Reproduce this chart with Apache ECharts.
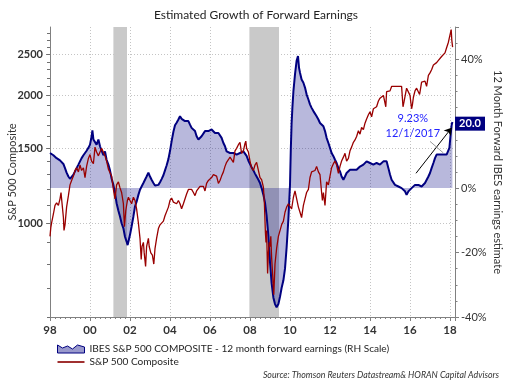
<!DOCTYPE html>
<html><head><meta charset="utf-8">
<script src="https://cdn.jsdelivr.net/npm/echarts@6/dist/echarts.min.js"></script>
<style>html,body{margin:0;padding:0;background:#fff}#c{width:512px;height:383px}</style>
</head><body><div id="c"></div>
<script>
const FONT = 'Lato, "Open Sans", sans-serif';
const chartTitle = 'Estimated Growth of Forward Earnings';
const earningsName = 'IBES S&P 500 COMPOSITE - 12 month forward earnings (RH Scale)';
const spxName = 'S&P 500 Composite';
const sourceText = 'Source: Thomson Reuters Datastream& HORAN Capital Advisors';
const leftAxisName = 'S&P 500 Composite';
const rightAxisName = '12 Month Forward IBES earnings estimate';

// [year, % growth] of 12-month forward earnings (right scale)
const earningsGrowth = [
[1998.00,10.9],[1998.08,11.1],[1998.17,10.2],[1998.25,9.6],[1998.33,9.3],[1998.42,8.8],[1998.50,8.6],[1998.58,8.3],[1998.67,7.5],[1998.75,6.2],[1998.83,4.8],[1998.92,3.6],
[1999.00,2.9],[1999.08,3.1],[1999.17,4.2],[1999.25,5.2],[1999.33,6.2],[1999.42,7.3],[1999.50,8.3],[1999.58,9.3],[1999.67,10.2],[1999.75,10.9],[1999.83,11.6],[1999.92,12.5],
[2000.00,13.5],[2000.08,16.0],[2000.12,17.9],[2000.17,15.1],[2000.25,15.6],[2000.33,13.5],[2000.42,15.1],[2000.50,13.0],[2000.58,11.6],[2000.67,10.2],[2000.75,11.4],[2000.83,8.8],[2000.92,7.3],
[2001.00,5.5],[2001.08,3.0],[2001.17,1.0],[2001.25,-1.5],[2001.33,-4.7],[2001.42,-7.0],[2001.50,-8.8],[2001.58,-10.9],[2001.67,-12.5],[2001.75,-15.1],[2001.83,-16.6],[2001.88,-17.7],[2001.94,-16.1],
[2002.00,-14.5],[2002.08,-11.9],[2002.17,-8.8],[2002.25,-5.7],[2002.33,-4.2],[2002.42,-2.1],[2002.50,-0.5],[2002.58,0.5],[2002.67,1.6],[2002.75,2.6],[2002.83,3.6],[2002.92,4.8],
[2003.00,3.6],[2003.08,2.6],[2003.17,1.6],[2003.25,0.8],[2003.33,0.5],[2003.42,1.0],[2003.50,1.8],[2003.58,2.8],[2003.67,4.0],[2003.75,5.5],[2003.83,7.0],[2003.92,9.0],
[2004.00,11.5],[2004.08,14.5],[2004.17,17.5],[2004.25,19.5],[2004.33,20.3],[2004.42,21.3],[2004.50,22.3],[2004.58,21.5],[2004.67,21.3],[2004.75,20.8],[2004.83,21.3],[2004.92,20.8],
[2005.00,19.7],[2005.08,18.7],[2005.17,18.2],[2005.25,17.7],[2005.33,16.1],[2005.42,15.1],[2005.50,15.1],[2005.58,16.1],[2005.67,16.6],[2005.75,17.7],[2005.83,18.2],[2005.92,17.7],
[2006.00,17.1],[2006.08,18.2],[2006.17,17.7],[2006.25,17.1],[2006.33,16.6],[2006.42,17.1],[2006.50,16.6],[2006.58,15.6],[2006.67,14.0],[2006.75,13.0],[2006.83,11.4],[2006.92,10.9],
[2007.00,10.9],[2007.08,10.4],[2007.17,10.9],[2007.25,10.4],[2007.33,10.4],[2007.42,10.9],[2007.50,10.9],[2007.58,11.4],[2007.67,11.4],[2007.75,10.9],[2007.83,10.0],[2007.92,8.5],
[2008.00,7.5],[2008.08,6.5],[2008.17,5.5],[2008.25,4.5],[2008.33,3.6],[2008.42,2.6],[2008.50,1.6],[2008.58,0.0],[2008.67,-2.1],[2008.75,-4.5],[2008.83,-8.5],[2008.92,-15.0],
[2009.00,-23.0],[2009.08,-29.5],[2009.17,-34.0],[2009.25,-36.0],[2009.33,-37.0],[2009.42,-36.0],[2009.50,-33.7],[2009.58,-31.0],[2009.67,-28.6],[2009.75,-25.0],[2009.83,-18.5],[2009.92,-9.5],
[2010.00,1.0],[2010.04,12.0],[2010.08,20.0],[2010.12,25.0],[2010.17,30.0],[2010.25,35.3],[2010.33,39.5],[2010.40,41.0],[2010.45,37.4],[2010.50,35.8],[2010.58,33.7],[2010.67,32.7],[2010.75,31.2],[2010.83,29.1],[2010.92,27.5],
[2011.00,26.0],[2011.08,24.9],[2011.17,23.9],[2011.25,23.4],[2011.33,22.3],[2011.42,21.3],[2011.50,20.2],[2011.58,19.7],[2011.67,19.2],[2011.75,17.7],[2011.83,15.6],[2011.92,14.0],
[2012.00,12.5],[2012.08,10.9],[2012.17,9.9],[2012.25,8.8],[2012.33,7.8],[2012.42,6.2],[2012.50,5.2],[2012.58,3.6],[2012.67,2.6],[2012.75,3.6],[2012.83,4.7],[2012.92,5.2],
[2013.00,5.7],[2013.08,6.2],[2013.17,5.7],[2013.25,6.2],[2013.33,5.7],[2013.42,6.2],[2013.50,6.7],[2013.58,6.7],[2013.67,7.3],[2013.83,8.3],
[2014.00,7.8],[2014.17,7.3],[2014.33,7.8],[2014.50,7.3],[2014.67,8.3],[2014.75,8.8],[2014.83,8.3],[2014.92,6.2],
[2015.00,4.2],[2015.08,2.6],[2015.17,2.1],[2015.25,1.0],[2015.33,0.5],[2015.42,0.5],[2015.50,0.0],[2015.58,0.0],[2015.67,-0.5],[2015.75,-1.0],[2015.83,-2.1],[2015.92,-1.0],
[2016.00,-0.5],[2016.08,0.0],[2016.17,0.5],[2016.25,1.0],[2016.33,0.5],[2016.42,1.0],[2016.50,0.5],[2016.58,0.5],[2016.67,1.0],[2016.75,1.6],[2016.83,2.1],[2016.92,3.6],
[2017.00,4.7],[2017.08,6.2],[2017.17,7.8],[2017.25,9.3],[2017.33,10.4],[2017.42,10.9],[2017.50,10.4],[2017.58,10.9],[2017.67,10.4],[2017.75,10.9],[2017.83,10.4],[2017.92,10.9],
[2017.97,12.5],[2018.03,16.6],[2018.08,19.5],[2018.12,20.5]
];

// [year, index level] of the S&P 500 (left, log scale)
const spxLevels = [
[1998.00,930],[1998.04,975],[1998.08,1000],[1998.17,1050],[1998.25,1100],[1998.33,1115],[1998.42,1100],[1998.50,1140],[1998.55,1180],[1998.62,1090],[1998.67,1030],[1998.70,960],[1998.75,990],[1998.83,1090],[1998.92,1160],
[1999.00,1230],[1999.08,1260],[1999.17,1290],[1999.25,1330],[1999.33,1350],[1999.42,1320],[1999.50,1370],[1999.58,1330],[1999.67,1350],[1999.75,1280],[1999.83,1360],[1999.92,1420],
[2000.00,1450],[2000.08,1400],[2000.17,1380],[2000.25,1510],[2000.33,1470],[2000.42,1440],[2000.50,1470],[2000.58,1500],[2000.67,1510],[2000.75,1440],[2000.83,1400],[2000.92,1340],
[2001.00,1340],[2001.08,1290],[2001.17,1200],[2001.25,1140],[2001.33,1230],[2001.42,1250],[2001.50,1210],[2001.58,1180],[2001.67,1110],[2001.72,980],[2001.79,1070],[2001.87,1130],[2001.92,1150],
[2002.00,1140],[2002.08,1110],[2002.17,1150],[2002.25,1130],[2002.33,1080],[2002.42,1000],[2002.50,920],[2002.56,820],[2002.60,880],[2002.67,900],[2002.71,850],[2002.78,790],[2002.83,880],[2002.92,920],[2002.96,880],
[2003.04,850],[2003.12,840],[2003.19,800],[2003.25,870],[2003.33,920],[2003.42,970],[2003.50,990],[2003.58,995],[2003.67,1010],[2003.75,1040],[2003.83,1050],[2003.92,1090],
[2004.00,1130],[2004.08,1145],[2004.17,1120],[2004.25,1130],[2004.33,1110],[2004.42,1130],[2004.50,1110],[2004.58,1080],[2004.67,1110],[2004.75,1120],[2004.83,1170],[2004.92,1200],
[2005.00,1190],[2005.08,1200],[2005.17,1180],[2005.25,1160],[2005.33,1190],[2005.42,1200],[2005.50,1220],[2005.58,1230],[2005.67,1220],[2005.75,1190],[2005.83,1240],[2005.92,1260],
[2006.00,1270],[2006.08,1280],[2006.17,1300],[2006.25,1310],[2006.33,1290],[2006.42,1240],[2006.50,1260],[2006.58,1290],[2006.67,1320],[2006.75,1360],[2006.83,1390],[2006.92,1410],
[2007.00,1430],[2007.08,1440],[2007.17,1390],[2007.25,1480],[2007.33,1500],[2007.42,1530],[2007.50,1550],[2007.58,1460],[2007.67,1480],[2007.75,1540],[2007.79,1560],[2007.83,1500],[2007.92,1470],
[2008.00,1400],[2008.08,1350],[2008.17,1330],[2008.25,1370],[2008.33,1390],[2008.42,1330],[2008.50,1280],[2008.58,1265],[2008.67,1215],[2008.72,1110],[2008.77,950],[2008.80,900],[2008.83,960],[2008.88,760],[2008.92,850],[2008.96,900],
[2009.00,880],[2009.04,930],[2009.08,830],[2009.13,760],[2009.19,677],[2009.25,800],[2009.33,870],[2009.42,930],[2009.50,940],[2009.58,990],[2009.67,1010],[2009.75,1060],[2009.83,1090],[2009.92,1110],
[2010.00,1120],[2010.08,1080],[2010.17,1150],[2010.25,1190],[2010.33,1200],[2010.42,1090],[2010.50,1060],[2010.58,1030],[2010.67,1100],[2010.75,1140],[2010.83,1180],[2010.92,1200],
[2011.00,1280],[2011.08,1320],[2011.17,1310],[2011.25,1330],[2011.33,1360],[2011.42,1320],[2011.50,1300],[2011.58,1180],[2011.62,1130],[2011.67,1180],[2011.75,1100],[2011.83,1250],[2011.92,1230],
[2012.00,1290],[2012.08,1350],[2012.17,1380],[2012.25,1400],[2012.33,1370],[2012.42,1310],[2012.50,1360],[2012.58,1400],[2012.67,1430],[2012.75,1460],[2012.83,1400],[2012.92,1420],
[2013.00,1480],[2013.08,1510],[2013.17,1550],[2013.25,1570],[2013.33,1600],[2013.42,1650],[2013.50,1620],[2013.58,1680],[2013.67,1660],[2013.75,1720],[2013.83,1760],[2013.92,1800],
[2014.00,1830],[2014.08,1780],[2014.17,1860],[2014.25,1870],[2014.33,1880],[2014.42,1940],[2014.50,1970],[2014.58,1950],[2014.67,2000],[2014.75,1990],[2014.79,1880],[2014.83,2040],[2014.92,2060],
[2015.00,2050],[2015.08,2100],[2015.17,2080],[2015.25,2100],[2015.33,2110],[2015.42,2100],[2015.50,2110],[2015.58,2100],[2015.65,1880],[2015.70,1930],[2015.75,1920],[2015.83,2080],[2015.92,2070],
[2016.00,2000],[2016.08,1860],[2016.12,1900],[2016.17,1980],[2016.25,2050],[2016.33,2080],[2016.42,2100],[2016.48,2010],[2016.58,2150],[2016.67,2170],[2016.75,2160],[2016.83,2100],[2016.92,2230],
[2017.00,2260],[2017.08,2300],[2017.17,2360],[2017.25,2350],[2017.33,2390],[2017.42,2420],[2017.50,2430],[2017.58,2470],[2017.67,2470],[2017.75,2520],[2017.83,2590],[2017.92,2670],
[2018.00,2780],[2018.06,2860],[2018.09,2700],[2018.13,2600]
];

const recessionPeriods = [[2001.17, 2001.85], [2007.97, 2009.45]];
const xTickYears = [1998, 2000, 2002, 2004, 2006, 2008, 2010, 2012, 2014, 2016, 2018];
const xTickLabels = ['98', '00', '02', '04', '06', '08', '10', '12', '14', '16', '18'];
const leftAxisLabels = [1000, 1500, 2000, 2500];
const leftAxisMinorTicks = [600,700,800,900,1000,1100,1200,1300,1400,1500,1600,1700,1800,1900,2000,2100,2200,2300,2400,2500,2600,2700,2800];
const lastValue = 20;
const lastValueLabel = '20.0';
const noteValue = '9.23%';
const noteDate = '12/1/2017';
const notePos = [2016.14, 21.6];
const noteDatePos = [2016.14, 17.1];
const arrowFrom = [2016.3, 4.6];
const arrowTo = [2018.08, 18.7];
const leaderFrom = [2017.0, 14.5];
const leaderTo = [2017.67, 10.9];

const X_MIN = 1998, X_MAX = 2018.25;
const gridLine = { show: true, lineStyle: { color: '#c4c4c4', type: [1, 2], width: 1 } };
const axisGray = '#808080';

const chart = echarts.init(document.getElementById('c'), null, { renderer: 'canvas' });
chart.setOption({
  animation: false,
  backgroundColor: '#fff',
  textStyle: { fontFamily: FONT },
  title: {
    text: chartTitle, left: 'center', top: 4,
    textStyle: { fontFamily: FONT, fontSize: 12, fontWeight: 'normal', color: '#1f1f1f' }
  },
  grid: { left: 50, right: 57, top: 27, bottom: 66, containLabel: false, outerBoundsMode: 'none' },
  legend: {
    orient: 'vertical', left: 52, top: 339, itemWidth: 27, itemHeight: 9, itemGap: 3,
    textStyle: { fontFamily: FONT, fontSize: 10.1, color: '#1f1f1f' },
    data: [
      { name: earningsName, icon: 'path://M0,10 L0,2 L5,5 L10,3 L15,6 L20,2 L27,4 L27,10 Z',
        itemStyle: { color: 'rgba(0,0,128,0.4)', borderColor: '#000080', borderWidth: 1 } },
      { name: spxName, icon: 'path://M0,0 L27,0 L27,2 L0,2 Z', itemStyle: { color: '#a03030' } }
    ]
  },
  xAxis: {
    type: 'value', min: X_MIN, max: X_MAX, interval: 2,
    axisLine: { show: true, onZero: false, lineStyle: { color: axisGray } },
    axisTick: { show: true, length: 4, lineStyle: { color: axisGray } },
    minorTick: { show: true, splitNumber: 8, length: 2, lineStyle: { color: axisGray } },
    axisLabel: {
      showMaxLabel: false, margin: 7, fontFamily: FONT, fontSize: 11.5, fontWeight: 'bold', color: '#333',
      formatter: v => { const i = xTickYears.indexOf(Math.round(v)); return i >= 0 && Math.abs(v - xTickYears[i]) < 1e-6 ? xTickLabels[i] : ''; }
    },
    splitLine: gridLine
  },
  yAxis: [
    {
      type: 'log', logBase: 10, min: 600, max: 2900, position: 'left',
      name: leftAxisName, nameLocation: 'middle', nameGap: 32, nameMoveOverlap: false,
      nameTextStyle: { fontFamily: FONT, fontSize: 11, color: '#333' },
      axisLine: { show: true, lineStyle: { color: axisGray } },
      axisTick: { show: true, length: 4, customValues: leftAxisLabels, lineStyle: { color: axisGray } },
      axisLabel: { customValues: leftAxisLabels, margin: 7, fontFamily: FONT, fontSize: 11, fontWeight: 'bold', color: '#333',
        formatter: v => String(Math.round(v)) },
      splitLine: gridLine
    },
    {
      type: 'value', min: -40, max: 50, interval: 20, position: 'right',
      name: rightAxisName, nameLocation: 'middle', nameGap: 37, nameRotate: -90, nameMoveOverlap: false,
      nameTextStyle: { fontFamily: FONT, fontSize: 11, color: '#333' },
      axisLine: { show: true, onZero: false, lineStyle: { color: axisGray } },
      axisTick: { show: true, length: 4, lineStyle: { color: axisGray } },
      minorTick: { show: true, splitNumber: 4, length: 2.5, lineStyle: { color: axisGray } },
      axisLabel: { showMaxLabel: false, margin: 6, fontFamily: FONT, fontSize: 11, color: '#333',
        formatter: v => (v === lastValue ? '' : v + '%') },
      splitLine: { show: false }
    },
    {
      type: 'log', logBase: 10, min: 600, max: 2900, position: 'left',
      axisLine: { show: false },
      axisTick: { show: true, length: 3, customValues: leftAxisMinorTicks, lineStyle: { color: '#707070' } },
      axisLabel: { show: false },
      splitLine: { show: false }
    }
  ],
  series: [
    {
      name: 'recessions', type: 'line', yAxisIndex: 1, data: [], z: 1, silent: true,
      markArea: {
        silent: true,
        itemStyle: { color: '#c9c9c9' },
        data: recessionPeriods.map(p => [{ xAxis: p[0] }, { xAxis: p[1] }])
      }
    },
    {
      name: earningsName, type: 'line', yAxisIndex: 1, z: 3,
      data: earningsGrowth, showSymbol: false, symbol: 'none',
      lineStyle: { color: '#000080', width: 2 },
      itemStyle: { color: '#000080' },
      areaStyle: { color: 'rgba(0,0,128,0.4)', origin: 'auto' },
      markPoint: {
        silent: true,
        data: [
          { coord: [X_MAX, lastValue], symbol: 'rect', symbolSize: [30, 14], symbolOffset: [15, 0],
            itemStyle: { color: '#000080' },
            label: { show: true, position: 'inside', formatter: lastValueLabel, color: '#fff', fontWeight: 'bold', fontSize: 11, fontFamily: FONT } },
          { coord: notePos, symbol: 'circle', symbolSize: 1, itemStyle: { color: 'rgba(0,0,0,0)' },
            label: { show: true, position: 'inside', formatter: noteValue, color: '#2323ff', fontSize: 11, fontFamily: FONT } },
          { coord: noteDatePos, symbol: 'circle', symbolSize: 1, itemStyle: { color: 'rgba(0,0,0,0)' },
            label: { show: true, position: 'inside', formatter: noteDate, color: '#2323ff', fontSize: 11, fontFamily: FONT } }
        ]
      },
      markLine: {
        silent: true, symbol: ['none', 'arrow'], symbolSize: 7,
        label: { show: false },
        data: [
          [{ coord: arrowFrom, lineStyle: { color: '#000', width: 1, type: 'solid' } }, { coord: arrowTo }],
          [{ coord: leaderFrom, symbol: 'none', lineStyle: { color: '#999', width: 1, type: 'solid' } }, { coord: leaderTo, symbol: 'none' }]
        ]
      }
    },
    {
      name: spxName, type: 'line', yAxisIndex: 0, z: 4,
      data: spxLevels, showSymbol: false, symbol: 'none',
      lineStyle: { color: '#990000', width: 1.3 },
      itemStyle: { color: '#990000' }
    }
  ],
  graphic: [
    { type: 'text', right: 13, top: 371,
      style: { text: sourceText, font: 'italic 8.8px ' + FONT, fill: '#333' } }
  ]
});
</script>
</body></html>
